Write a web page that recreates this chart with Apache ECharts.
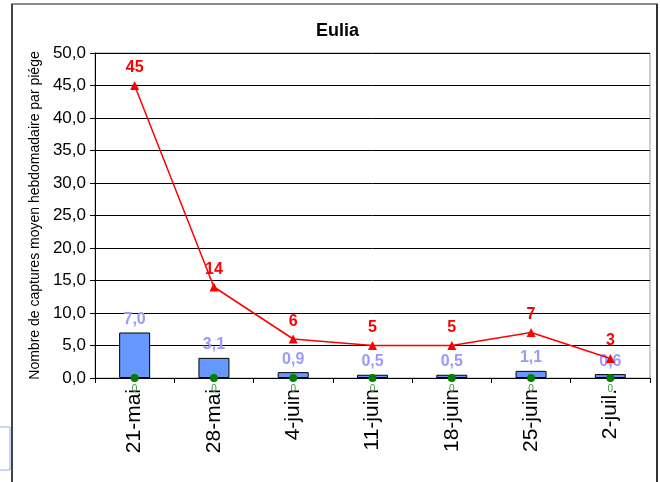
<!DOCTYPE html>
<html>
<head>
<meta charset="utf-8">
<script src="https://cdn.jsdelivr.net/npm/echarts@6/dist/echarts.min.js"></script>
<style>
html,body{margin:0;padding:0;background:#fff;}
#c{width:660px;height:482px;}
</style>
</head>
<body>
<div id="c"></div>
<script>
const categories = ['21-mai', '28-mai', '4-juin', '11-juin', '18-juin', '25-juin', '2-juil.'];
const barValues = [7.0, 3.1, 0.9, 0.5, 0.5, 1.1, 0.6];
const lineValues = [45, 14, 6, 5, 5, 7, 3];
const zeroValues = [0, 0, 0, 0, 0, 0, 0];
const yTitle = 'Nombre de captures moyen hebdomadaire par piége';
const chartTitle = 'Eulia';

const fmt = v => v.toFixed(1).replace('.', ',');
const FF = 'Liberation Sans, Arial, sans-serif';

const chart = echarts.init(document.getElementById('c'), null, {renderer: 'canvas'});
chart.setOption({
  animation: false,
  backgroundColor: '#fff',
  textStyle: {fontFamily: FF},
  title: {
    text: chartTitle,
    left: 311, top: 17,
    textStyle: {fontSize: 18, fontWeight: 'bold', color: '#000', fontFamily: FF}
  },
  grid: {left: 95, right: 10, top: 53, bottom: 104, show: true, borderColor: '#999', borderWidth: 1, backgroundColor: '#fff'},
  xAxis: {
    type: 'category',
    data: categories,
    boundaryGap: true,
    axisLine: {lineStyle: {color: '#000', width: 1}},
    axisTick: {show: true, alignWithLabel: false, length: 5, lineStyle: {color: '#000'}},
    axisLabel: {rotate: 90, fontSize: 21, color: '#000', margin: 11, fontFamily: FF}
  },
  yAxis: {
    type: 'value',
    min: 0, max: 50, interval: 5,
    name: yTitle,
    nameLocation: 'middle',
    nameGap: 51,
    nameTextStyle: {fontSize: 14, color: '#000', fontFamily: FF},
    axisLine: {show: true, lineStyle: {color: '#000'}},
    axisTick: {show: true, length: 5, lineStyle: {color: '#000'}},
    axisLabel: {formatter: v => fmt(v), fontSize: 17, color: '#000', margin: 9, fontFamily: FF},
    splitLine: {show: true, lineStyle: {color: '#000', width: 1}}
  },
  series: [
    {
      type: 'bar',
      data: barValues,
      barWidth: 31,
      itemStyle: {color: '#6699FF', borderColor: '#000', borderWidth: 1},
      label: {show: true, position: 'top', distance: 5, formatter: p => fmt(p.value), color: '#9999FF', fontSize: 16, fontWeight: 'bold'},
      z: 2
    },
    {
      type: 'line',
      data: lineValues,
      symbol: 'triangle',
      symbolSize: 9,
      lineStyle: {color: '#FF0000', width: 1.5},
      itemStyle: {color: '#FF0000'},
      label: {show: true, position: 'top', distance: 5, color: '#FF0000', fontSize: 16, fontWeight: 'bold'},
      z: 4
    },
    {
      type: 'line',
      data: zeroValues,
      symbol: 'circle',
      symbolSize: 8,
      lineStyle: {width: 0, opacity: 0},
      itemStyle: {color: '#008000'},
      label: {show: true, position: 'bottom', distance: 2, color: '#339933', fontSize: 10},
      z: 5
    }
  ],
  graphic: [
    {type: 'rect', shape: {x: 12, y: 4, width: 645, height: 490}, style: {fill: 'none', stroke: '#666', lineWidth: 1.5}, silent: true},
    {type: 'line', shape: {x1: 657, y1: 4, x2: 657, y2: 482}, style: {stroke: '#333', lineWidth: 2}, silent: true},
    {type: 'line', shape: {x1: 12, y1: 4, x2: 12, y2: 482}, style: {stroke: '#444', lineWidth: 2}, silent: true},
    {type: 'polyline', shape: {points: [[0, 427], [10, 427], [10, 470], [0, 470]]}, style: {fill: 'none', stroke: '#88AAFF', lineWidth: 1}, silent: true}
  ]
});
</script>
</body>
</html>
